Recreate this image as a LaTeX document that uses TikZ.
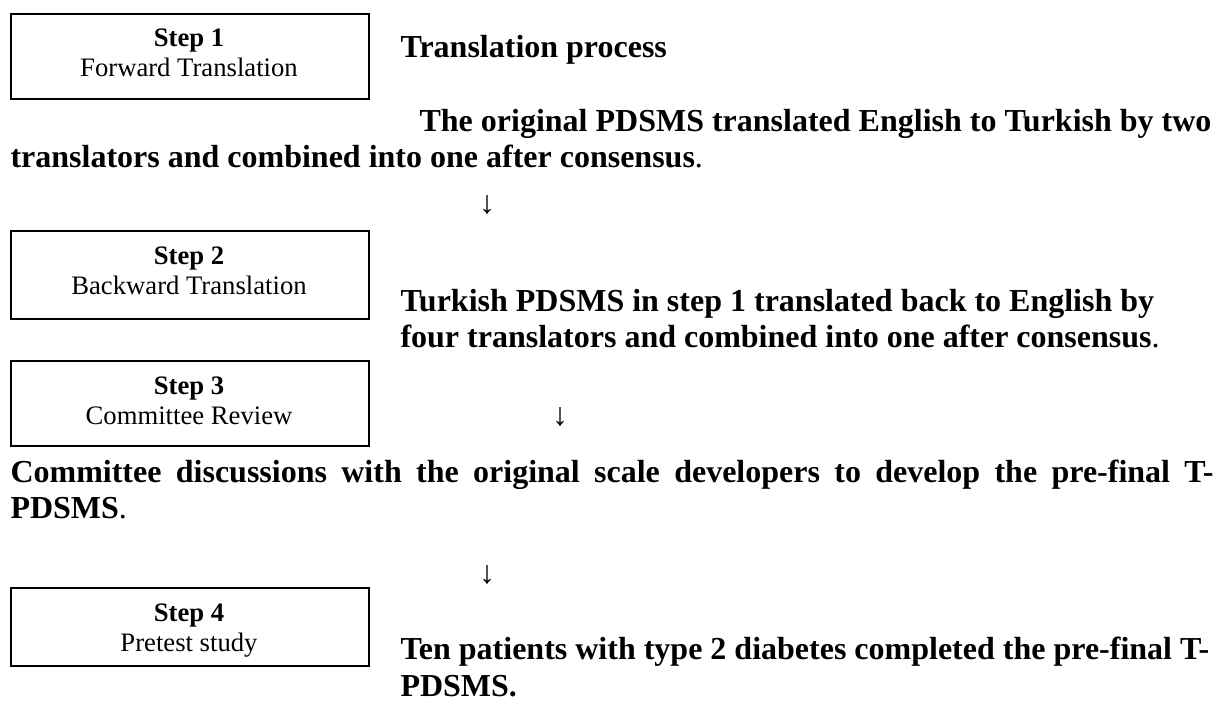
\documentclass[tikz,border=0pt]{standalone}
\usepackage{fontspec}
\setmainfont{Liberation Serif}
\begin{document}
\begin{tikzpicture}[x=0.375pt,y=-0.375pt,
  stepbox/.style={draw, line width=0.8pt, inner sep=0, anchor=north west,
    minimum width=134.25pt},
  steptext/.style={anchor=base, inner sep=0, font=\fontsize{10}{12}\selectfont},
  body/.style={anchor=base west, inner sep=0, font=\fontsize{12}{14}\selectfont\bfseries},
  downarrow/.style={anchor=base, inner sep=0, font=\fontsize{12}{14}\selectfont}]
\useasboundingbox (0,0) rectangle (1224,709);

% step boxes on the left
\node[stepbox, minimum height=31.9pt] (box1) at (10,13) {};
\node[steptext] (b1a) at (189,47) {\textbf{Step 1}};
\node[steptext] (b1b) at (189,77) {Forward Translation};

\node[stepbox, minimum height=33pt] (box2) at (10,230) {};
\node[steptext] (b2a) at (189,265) {\textbf{Step 2}};
\node[steptext] (b2b) at (189,295) {Backward Translation};

\node[stepbox, minimum height=31.9pt] (box3) at (10,360) {};
\node[steptext] (b3a) at (189,395) {\textbf{Step 3}};
\node[steptext] (b3b) at (189,425) {Committee Review};

\node[stepbox, minimum height=29.3pt] (box4) at (10,587) {};
\node[steptext] (b4a) at (189,622) {\textbf{Step 4}};
\node[steptext] (b4b) at (189,652) {Pretest study};

% process description
\node[body] (title) at (400,58) {Translation process};
\node[body, anchor=base east] (t1a) at (1212,132) {The original PDSMS translated English to Turkish by two};
\node[body] (t1b) at (10,168) {translators and combined into one after consensus\textmd{.}};
\node[downarrow] (a1) at (487,214) {↓};

\node[body] (t2a) at (400,312) {Turkish PDSMS in step 1 translated back to English by};
\node[body] (t2b) at (400,348) {four translators and combined into one after consensus\textmd{.}};
\node[downarrow] (a2) at (560,426) {↓};

\node[body] (t3a) at (10,483) {\makebox[451.1pt][s]{Committee discussions with the original scale developers to develop the pre-final T-}};
\node[body] (t3b) at (10,519) {PDSMS\textmd{.}};
\node[downarrow] (a3) at (487,584) {↓};

\node[body] (t4a) at (400,660) {Ten patients with type 2 diabetes completed the pre-final T-};
\node[body] (t4b) at (400,697) {PDSMS.};
\end{tikzpicture}
\end{document}
